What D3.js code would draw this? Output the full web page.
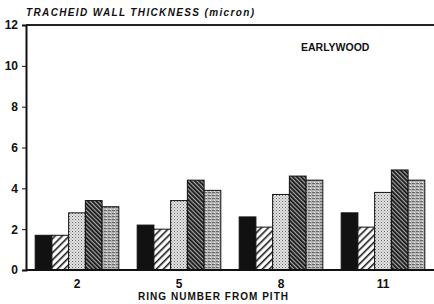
<!DOCTYPE html>
<html>
<head>
<meta charset="utf-8">
<script src="https://cdn.jsdelivr.net/npm/d3@7"></script>
<style>
  body { margin: 0; background: #fff; }
  text { font-family: "Liberation Sans", Arial, sans-serif; fill: #111; }
</style>
</head>
<body>
<div class="container"></div>
<script>
// data
const rings = ["2", "5", "8", "11"];
const series = ["s1", "s2", "s3", "s4", "s5"];
const s1 = [1.7, 2.2, 2.6, 2.8];
const s2 = [1.7, 2.0, 2.1, 2.1];
const s3 = [2.8, 3.4, 3.7, 3.8];
const s4 = [3.4, 4.4, 4.6, 4.9];
const s5 = [3.1, 3.9, 4.4, 4.4];
const yTicks = [0, 2, 4, 6, 8, 10, 12];

const values = [s1, s2, s3, s4, s5];
const rows = [];
rings.forEach((r, i) => {
    series.forEach((s, j) => rows.push({ring: r, key: s, value: values[j][i]}));
});

const W = 434, H = 304;
const margin = {top: 25, right: 0, bottom: 34, left: 26};

const svg = d3.select(".container")
    .append("svg")
    .attr("width", W)
    .attr("height", H);

// patterns
const defs = svg.append("defs");

const p2 = defs.append("pattern").attr("id", "hatchLight")
    .attr("patternUnits", "userSpaceOnUse").attr("width", 5).attr("height", 5)
    .attr("patternTransform", "rotate(45)");
p2.append("rect").attr("width", 5).attr("height", 5).attr("fill", "#fff");
p2.append("rect").attr("width", 1.6).attr("height", 5).attr("fill", "#222");

const p3 = defs.append("pattern").attr("id", "dots")
    .attr("patternUnits", "userSpaceOnUse").attr("width", 3).attr("height", 3);
p3.append("rect").attr("width", 3).attr("height", 3).attr("fill", "#e4e4e4");
p3.append("rect").attr("width", 1).attr("height", 1).attr("fill", "#666");
p3.append("rect").attr("x", 1.5).attr("y", 1.5).attr("width", 1).attr("height", 1).attr("fill", "#888");

const p4 = defs.append("pattern").attr("id", "hatchDark")
    .attr("patternUnits", "userSpaceOnUse").attr("width", 3).attr("height", 3)
    .attr("patternTransform", "rotate(-45)");
p4.append("rect").attr("width", 3).attr("height", 3).attr("fill", "#aaa");
p4.append("rect").attr("width", 1.8).attr("height", 3).attr("fill", "#151515");

const p5 = defs.append("pattern").attr("id", "greyTex")
    .attr("patternUnits", "userSpaceOnUse").attr("width", 4).attr("height", 3);
p5.append("rect").attr("width", 4).attr("height", 3).attr("fill", "#b4b4b4");
p5.append("rect").attr("width", 3).attr("height", 1).attr("fill", "#6a6a6a");
p5.append("rect").attr("x", 2).attr("y", 2).attr("width", 1).attr("height", 1).attr("fill", "#eee");

const fills = {s1: "#111", s2: "url(#hatchLight)", s3: "url(#dots)", s4: "url(#hatchDark)", s5: "url(#greyTex)"};

// scales
const x0 = d3.scaleBand()
    .domain(rings)
    .range([margin.left, W - margin.right])
    .paddingInner(0.18)
    .paddingOuter(0.09);

const x1 = d3.scaleBand()
    .domain(series)
    .range([0, x0.bandwidth()]);

const y = d3.scaleLinear()
    .domain([0, 12])
    .range([H - margin.bottom, margin.top]);

// bars
svg.append("g")
    .selectAll("rect")
    .data(rows)
    .enter()
    .append("rect")
    .attr("x", d => x0(d.ring) + x1(d.key))
    .attr("y", d => y(d.value))
    .attr("width", x1.bandwidth())
    .attr("height", d => y(0) - y(d.value))
    .attr("fill", d => fills[d.key])
    .attr("stroke", "#111")
    .attr("stroke-width", 1);

// frame: top line, left axis, bottom axis
svg.append("line")
    .attr("x1", margin.left).attr("x2", W)
    .attr("y1", y(12)).attr("y2", y(12))
    .attr("stroke", "#222").attr("stroke-width", 2);

const yAxis = d3.axisLeft(y).tickValues(yTicks).tickSize(4).tickPadding(4);
const gy = svg.append("g")
    .attr("transform", `translate(${margin.left},0)`)
    .call(yAxis);
gy.select(".domain").attr("stroke", "#111").attr("stroke-width", 2);
gy.selectAll(".tick line").attr("stroke", "#111");
gy.selectAll(".tick text")
    .attr("font-size", "12px")
    .attr("font-weight", "bold")
    .attr("font-family", "Liberation Sans, Arial, sans-serif")
    .attr("fill", "#111");

const xAxis = d3.axisBottom(x0).tickSize(0).tickPadding(9);
const gx = svg.append("g")
    .attr("transform", `translate(0,${y(0)})`)
    .call(xAxis);
gx.select(".domain").attr("stroke", "#111").attr("stroke-width", 2)
    .attr("d", `M${margin.left},0H${W}`);
gx.selectAll(".tick text")
    .attr("font-size", "12px")
    .attr("font-weight", "bold")
    .attr("font-family", "Liberation Sans, Arial, sans-serif")
    .attr("fill", "#111");

// titles
svg.append("text")
    .attr("x", 26)
    .attr("y", 16)
    .attr("font-size", "10px")
    .attr("font-weight", "bold")
    .attr("font-style", "italic")
    .attr("textLength", 228)
    .text("TRACHEID WALL THICKNESS (micron)");

svg.append("text")
    .attr("x", 213)
    .attr("y", 300)
    .attr("text-anchor", "middle")
    .attr("font-size", "10px")
    .attr("font-weight", "bold")
    .attr("textLength", 150)
    .text("RING NUMBER FROM PITH");

svg.append("text")
    .attr("x", 301)
    .attr("y", 51)
    .attr("font-size", "10.5px")
    .attr("font-weight", "bold")
    .text("EARLYWOOD");
</script>
</body>
</html>
